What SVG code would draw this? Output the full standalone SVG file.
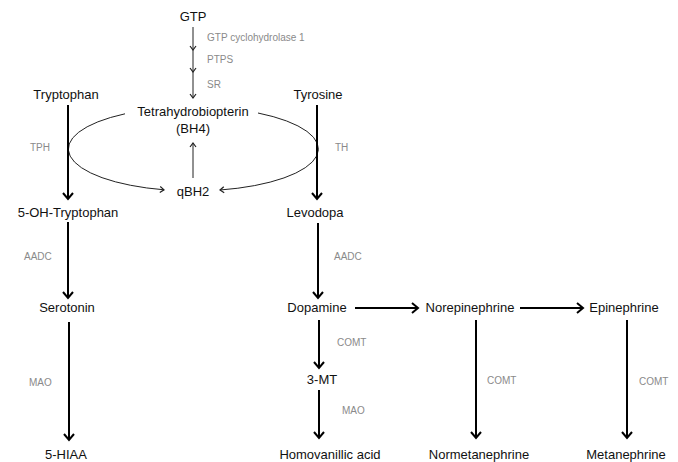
<svg xmlns="http://www.w3.org/2000/svg" width="678" height="462" viewBox="0 0 678 462">
<style>
.t{font-family:"Liberation Sans",Arial,sans-serif;font-size:13px;fill:#111;text-anchor:middle}
.e{font-family:"Liberation Sans",Arial,sans-serif;font-size:10px;fill:#8a8a8a}
.thick{stroke:#000;stroke-width:2;fill:none;marker-end:url(#big)}
.thin{stroke:#222;stroke-width:1;fill:none;marker-end:url(#small)}
</style>
<defs>
<marker id="big" markerUnits="userSpaceOnUse" viewBox="-10 -7 12 14" markerWidth="12" markerHeight="14" refX="0" refY="0" orient="auto">
<path d="M-6,-5 L0,0 L-6,5" fill="none" stroke="#000" stroke-width="2"/>
</marker>
<marker id="small" markerUnits="userSpaceOnUse" viewBox="-8 -5 10 10" markerWidth="10" markerHeight="10" refX="0" refY="0" orient="auto">
<path d="M-4,-3 L0,0 L-4,3" fill="none" stroke="#222" stroke-width="1.2"/>
</marker>
</defs>
<rect width="678" height="462" fill="#fff"/>
<g id="connectors">
<line class="thin" x1="193" y1="27" x2="193" y2="50"/>
<line class="thin" x1="193" y1="50" x2="193" y2="72"/>
<line class="thin" x1="193" y1="72" x2="193" y2="98"/>
<path class="thin" d="M125,113.8 A125,42 0 0 0 164,189.8"/>
<path class="thin" d="M258,113 A125,42 0 0 1 220,190"/>
<line class="thin" x1="193" y1="178" x2="193" y2="143"/>
<line class="thick" x1="68" y1="105" x2="68" y2="199"/>
<line class="thick" x1="68" y1="222" x2="68" y2="298"/>
<line class="thick" x1="69" y1="322" x2="69" y2="440"/>
<line class="thick" x1="317" y1="105" x2="317" y2="199"/>
<line class="thick" x1="318" y1="223" x2="318" y2="298"/>
<line class="thick" x1="355" y1="308" x2="418" y2="308"/>
<line class="thick" x1="520" y1="308" x2="583" y2="308"/>
<line class="thick" x1="319" y1="320" x2="319" y2="368"/>
<line class="thick" x1="319" y1="390" x2="319" y2="438"/>
<line class="thick" x1="476" y1="320" x2="476" y2="438"/>
<line class="thick" x1="627" y1="320" x2="627" y2="438"/>
</g>
<g id="enzymes">
<text class="e" x="207" y="41">GTP cyclohydrolase 1</text>
<text class="e" x="207" y="63">PTPS</text>
<text class="e" x="207" y="88">SR</text>
<text class="e" x="30" y="151">TPH</text>
<text class="e" x="335" y="151">TH</text>
<text class="e" x="24" y="260">AADC</text>
<text class="e" x="334" y="260">AADC</text>
<text class="e" x="29" y="386">MAO</text>
<text class="e" x="337" y="346">COMT</text>
<text class="e" x="342" y="414">MAO</text>
<text class="e" x="487" y="384">COMT</text>
<text class="e" x="639" y="385">COMT</text>
</g>
<g id="GTP"><text class="t" x="193" y="21">GTP</text></g>
<g id="Tryptophan"><text class="t" x="66" y="99">Tryptophan</text></g>
<g id="Tyrosine"><text class="t" x="318" y="99">Tyrosine</text></g>
<g id="BH4"><text class="t" x="193" y="116">Tetrahydrobiopterin</text><text class="t" x="193" y="133">(BH4)</text></g>
<g id="qBH2"><text class="t" x="193" y="196">qBH2</text></g>
<g id="OHTryptophan"><text class="t" x="68" y="217">5-OH-Tryptophan</text></g>
<g id="Levodopa"><text class="t" x="315" y="217">Levodopa</text></g>
<g id="Serotonin"><text class="t" x="67" y="312">Serotonin</text></g>
<g id="Dopamine"><text class="t" x="317" y="312">Dopamine</text></g>
<g id="Norepinephrine"><text class="t" x="470" y="312">Norepinephrine</text></g>
<g id="Epinephrine"><text class="t" x="624" y="312">Epinephrine</text></g>
<g id="MT3"><text class="t" x="322" y="384">3-MT</text></g>
<g id="HIAA"><text class="t" x="66" y="459">5-HIAA</text></g>
<g id="HVA"><text class="t" x="330" y="459">Homovanillic acid</text></g>
<g id="Normetanephrine"><text class="t" x="479" y="459">Normetanephrine</text></g>
<g id="Metanephrine"><text class="t" x="626" y="459">Metanephrine</text></g>
</svg>
